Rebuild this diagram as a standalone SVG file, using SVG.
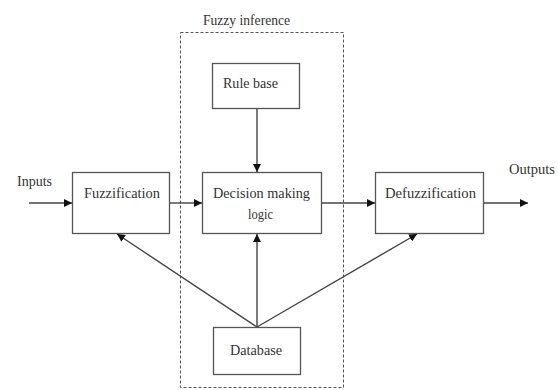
<svg xmlns="http://www.w3.org/2000/svg" width="558" height="390" viewBox="0 0 558 390">
<defs>
<marker id="ah" markerWidth="8" markerHeight="8" refX="8" refY="4" orient="auto" markerUnits="userSpaceOnUse">
<path d="M0,0 L8,4 L0,8 Z" fill="#111"/>
</marker>
</defs>
<style>
.box{fill:#fff;stroke:#555;stroke-width:1.3}
.dash{fill:none;stroke:#555;stroke-width:1;stroke-dasharray:3,2}
.ln{fill:none;stroke:#444;stroke-width:1.4;marker-end:url(#ah)}
.t{font-family:'Liberation Serif','Times New Roman',serif;font-size:15px;fill:#333}
</style>
<rect width="558" height="390" fill="#fff"/>
<g id="fuzzy-inference">
<rect class="dash" x="180.5" y="32.5" width="163" height="355"/>
<text class="t" font-family="Liberation Serif, serif" x="203" y="25" textLength="87" lengthAdjust="spacingAndGlyphs">Fuzzy inference</text>
</g>
<g id="inputs"><text class="t" font-family="Liberation Serif, serif" x="17" y="186" textLength="35" lengthAdjust="spacingAndGlyphs">Inputs</text></g>
<g id="outputs"><text class="t" font-family="Liberation Serif, serif" x="509" y="174" textLength="46" lengthAdjust="spacingAndGlyphs">Outputs</text></g>
<g id="rule-base">
<rect class="box" x="212.5" y="63.5" width="87" height="45"/>
<text class="t" font-family="Liberation Serif, serif" x="223" y="88" textLength="55" lengthAdjust="spacingAndGlyphs">Rule base</text>
</g>
<g id="fuzzification">
<rect class="box" x="72.5" y="172.5" width="97" height="61"/>
<text class="t" font-family="Liberation Serif, serif" x="84" y="198" textLength="76" lengthAdjust="spacingAndGlyphs">Fuzzification</text>
</g>
<g id="decision">
<rect class="box" x="202.5" y="172.5" width="119" height="61"/>
<text class="t" font-family="Liberation Serif, serif" x="213" y="198" textLength="97" lengthAdjust="spacingAndGlyphs">Decision making</text>
<text class="t" font-family="Liberation Serif, serif" x="248" y="219" textLength="25" lengthAdjust="spacingAndGlyphs">logic</text>
</g>
<g id="defuzzification">
<rect class="box" x="375.5" y="172.5" width="108" height="61"/>
<text class="t" font-family="Liberation Serif, serif" x="385" y="198" textLength="91" lengthAdjust="spacingAndGlyphs">Defuzzification</text>
</g>
<g id="database">
<rect class="box" x="213.5" y="327.5" width="87" height="47"/>
<text class="t" font-family="Liberation Serif, serif" x="230" y="355" textLength="52" lengthAdjust="spacingAndGlyphs">Database</text>
</g>
<g id="connectors">
<line class="ln" x1="29" y1="203" x2="72" y2="203"/>
<line class="ln" x1="170" y1="203" x2="202" y2="203"/>
<line class="ln" x1="322" y1="203" x2="375" y2="203"/>
<line class="ln" x1="484" y1="203" x2="528" y2="203"/>
<line class="ln" x1="257" y1="109" x2="257" y2="172"/>
<line class="ln" x1="257" y1="327" x2="257" y2="234"/>
<line class="ln" x1="257" y1="327" x2="117" y2="234"/>
<line class="ln" x1="257" y1="327" x2="417" y2="234"/>
</g>
</svg>
